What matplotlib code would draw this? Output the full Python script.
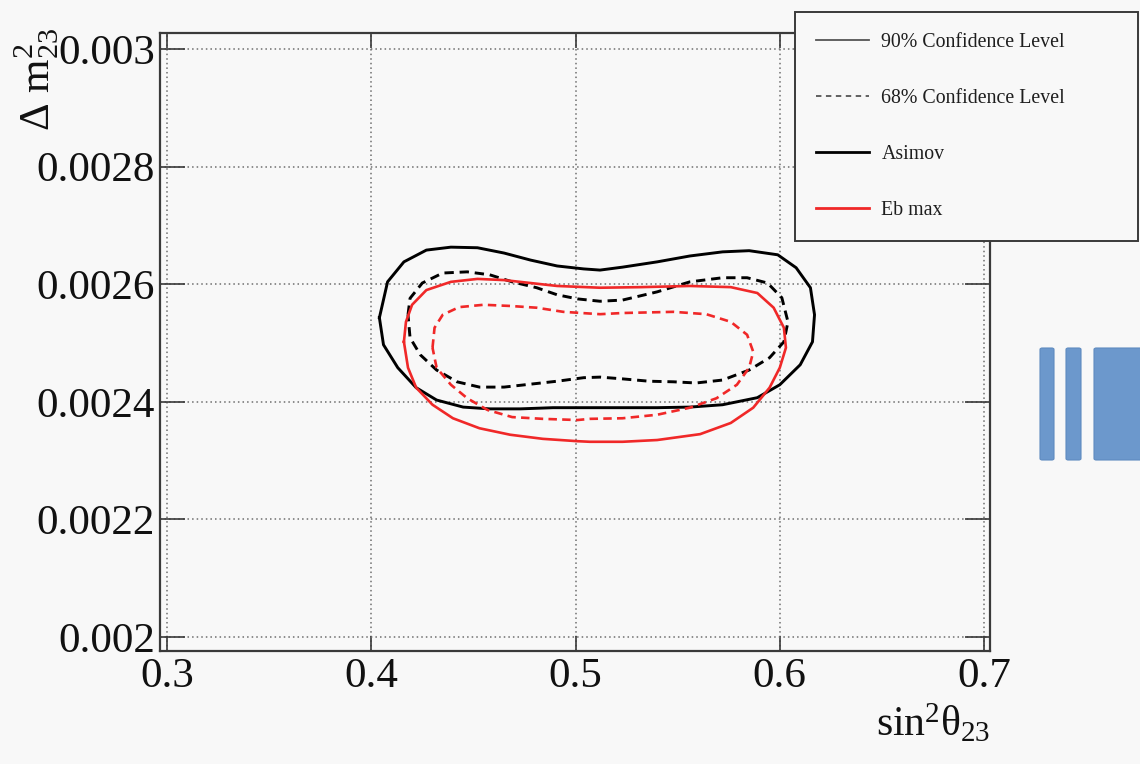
"""Recreate the sin^2(theta23) vs dm^2_23 confidence contour plot."""

import matplotlib

matplotlib.use("Agg")
import matplotlib.pyplot as plt
import numpy as np
from matplotlib.lines import Line2D
from matplotlib.patches import FancyBboxPatch

plt.rcParams["font.family"] = ["Liberation Serif", "DejaVu Serif"]
plt.rcParams["mathtext.fontset"] = "custom"
plt.rcParams["mathtext.rm"] = "Liberation Serif"
plt.rcParams["mathtext.it"] = "Liberation Serif"

# Axis ticks
x_ticks = [0.3, 0.4, 0.5, 0.6, 0.7]
x_tick_labels = ["0.3", "0.4", "0.5", "0.6", "0.7"]
y_ticks = [0.002, 0.0022, 0.0024, 0.0026, 0.0028, 0.003]
y_tick_labels = ["0.002", "0.0022", "0.0024", "0.0026", "0.0028", "0.003"]

# Contours (y in units of 1e-3 eV^2)
asimov_90_x = [0.404, 0.408, 0.416, 0.427, 0.439, 0.452, 0.465, 0.478, 0.491, 0.504,
               0.512, 0.523, 0.540, 0.556, 0.572, 0.585, 0.599, 0.608, 0.615, 0.617,
               0.616, 0.610, 0.600, 0.589, 0.572, 0.556, 0.540, 0.523, 0.507, 0.489,
               0.473, 0.458, 0.445, 0.432, 0.422, 0.413, 0.406]
asimov_90_y = [2.543, 2.604, 2.638, 2.658, 2.663, 2.662, 2.653, 2.641, 2.631, 2.626,
               2.624, 2.629, 2.638, 2.648, 2.655, 2.657, 2.650, 2.628, 2.594, 2.548,
               2.502, 2.463, 2.429, 2.407, 2.395, 2.391, 2.390, 2.390, 2.390, 2.390,
               2.388, 2.388, 2.391, 2.403, 2.424, 2.458, 2.497]

asimov_68_x = [0.418, 0.419, 0.425, 0.435, 0.447, 0.458, 0.469, 0.481, 0.491, 0.501,
               0.512, 0.523, 0.540, 0.556, 0.572, 0.584, 0.594, 0.601, 0.604, 0.602,
               0.595, 0.585, 0.572, 0.559, 0.548, 0.536, 0.523, 0.512, 0.504, 0.491,
               0.478, 0.465, 0.453, 0.442, 0.432, 0.424, 0.419]
asimov_68_y = [2.548, 2.576, 2.602, 2.619, 2.621, 2.616, 2.604, 2.594, 2.582, 2.575,
               2.571, 2.573, 2.587, 2.604, 2.611, 2.611, 2.602, 2.577, 2.536, 2.502,
               2.475, 2.454, 2.437, 2.432, 2.434, 2.435, 2.439, 2.442, 2.441, 2.435,
               2.430, 2.425, 2.425, 2.434, 2.454, 2.480, 2.509]

ebmax_90_x = [0.416, 0.417, 0.420, 0.427, 0.439, 0.452, 0.465, 0.478, 0.491, 0.512,
              0.532, 0.556, 0.576, 0.589, 0.597, 0.602, 0.603, 0.600, 0.595, 0.587,
              0.576, 0.561, 0.540, 0.523, 0.507, 0.501, 0.484, 0.468, 0.453, 0.440,
              0.430, 0.422, 0.418]
ebmax_90_y = [2.502, 2.536, 2.565, 2.590, 2.604, 2.609, 2.607, 2.602, 2.597, 2.594,
              2.595, 2.597, 2.595, 2.585, 2.560, 2.526, 2.492, 2.458, 2.424, 2.390,
              2.364, 2.345, 2.335, 2.332, 2.332, 2.333, 2.337, 2.344, 2.355, 2.372,
              2.395, 2.424, 2.458]

ebmax_68_x = [0.430, 0.431, 0.435, 0.443, 0.455, 0.468, 0.481, 0.494, 0.512, 0.523,
              0.548, 0.564, 0.576, 0.584, 0.587, 0.585, 0.579, 0.569, 0.556, 0.540,
              0.523, 0.507, 0.501, 0.484, 0.469, 0.457, 0.447, 0.439, 0.432]
ebmax_68_y = [2.492, 2.526, 2.548, 2.561, 2.565, 2.563, 2.560, 2.553, 2.549, 2.551,
              2.553, 2.549, 2.536, 2.514, 2.485, 2.458, 2.429, 2.406, 2.390, 2.378,
              2.372, 2.371, 2.369, 2.371, 2.374, 2.386, 2.406, 2.429, 2.458]

legend_labels = ["90% Confidence Level", "68% Confidence Level", "Asimov", "Eb max"]

BG = "#f8f8f8"
RED = "#f02828"
FRAME = "#3a3a3a"


def closed(xs, ys):
    xs = list(xs) + [xs[0]]
    ys = [v * 1e-3 for v in list(ys) + [ys[0]]]
    return xs, ys


fig = plt.figure(figsize=(11.4, 7.64), dpi=100)
fig.patch.set_facecolor(BG)
ax = fig.add_axes([160 / 1140, 113 / 764, 830 / 1140, 618 / 764])
ax.set_facecolor(BG)

dash = (3.2, 2.0)
ax.plot(*closed(asimov_90_x, asimov_90_y), color="black", lw=2.1, solid_joinstyle="round")
ax.plot(*closed(asimov_68_x, asimov_68_y), color="black", lw=2.1, dashes=dash)
ax.plot(*closed(ebmax_90_x, ebmax_90_y), color=RED, lw=1.9, solid_joinstyle="round")
ax.plot(*closed(ebmax_68_x, ebmax_68_y), color=RED, lw=1.9, dashes=dash)

ax.set_xlim(0.2966, 0.7029)
ax.set_ylim(0.0019762, 0.0030272)
ax.set_xticks(x_ticks)
ax.set_xticklabels(x_tick_labels)
ax.set_yticks(y_ticks)
ax.set_yticklabels(y_tick_labels)
ax.minorticks_off()
ax.tick_params(axis="both", direction="in", top=True, right=True, width=1.2,
               color=FRAME, labelsize=31, labelcolor="#111111")
ax.tick_params(axis="y", length=18, pad=3.5)
ax.tick_params(axis="x", length=10.5, pad=5)
ax.grid(True, color="#6e6e6e", linestyle=(0, (1, 2.0)), linewidth=1.1)
for spine in ax.spines.values():
    spine.set_color(FRAME)
    spine.set_linewidth(1.6)

fig.text(990 / 1140, 1 - 703 / 764, r"$\mathrm{sin}^{2}\theta_{23}$",
         ha="right", va="top", fontsize=30, color="#111111")
fig.text(37 / 1140, 1 - 27 / 764, r"$\Delta\ \mathrm{m}^{2}_{23}$",
         ha="center", va="top", rotation=90, fontsize=31, color="#111111")

handles = [
    Line2D([], [], color="#555555", lw=1.3),
    Line2D([], [], color="#555555", lw=1.3, dashes=(3, 2.5)),
    Line2D([], [], color="black", lw=2.0),
    Line2D([], [], color=RED, lw=2.0),
]
leg = ax.legend(handles, legend_labels, loc="upper left",
                bbox_to_anchor=(795 / 1140, 1 - 12 / 764, 343 / 1140, 0.0),
                bbox_transform=fig.transFigure, mode="expand", fontsize=14.3,
                handlelength=2.7, handletextpad=0.6, labelspacing=1.86,
                borderpad=1.05, borderaxespad=0, fancybox=False,
                framealpha=1, facecolor=BG, edgecolor=FRAME)
leg.get_frame().set_linewidth(1.4)
for txt in leg.get_texts():
    txt.set_color("#1e1e1e")

# blue slide shapes at the right edge of the picture
for x0, x1 in [(1040, 1054), (1066, 1081), (1094, 1145)]:
    fig.patches.append(FancyBboxPatch(
        (x0 / 1140, 1 - 460 / 764), (x1 - x0) / 1140, 112 / 764,
        boxstyle="round,pad=0,rounding_size=0.002", transform=fig.transFigure,
        facecolor="#6c98cc", edgecolor="#5f8bc0", lw=0.8, figure=fig))

fig.savefig("out.png", dpi=100, facecolor=fig.get_facecolor())
